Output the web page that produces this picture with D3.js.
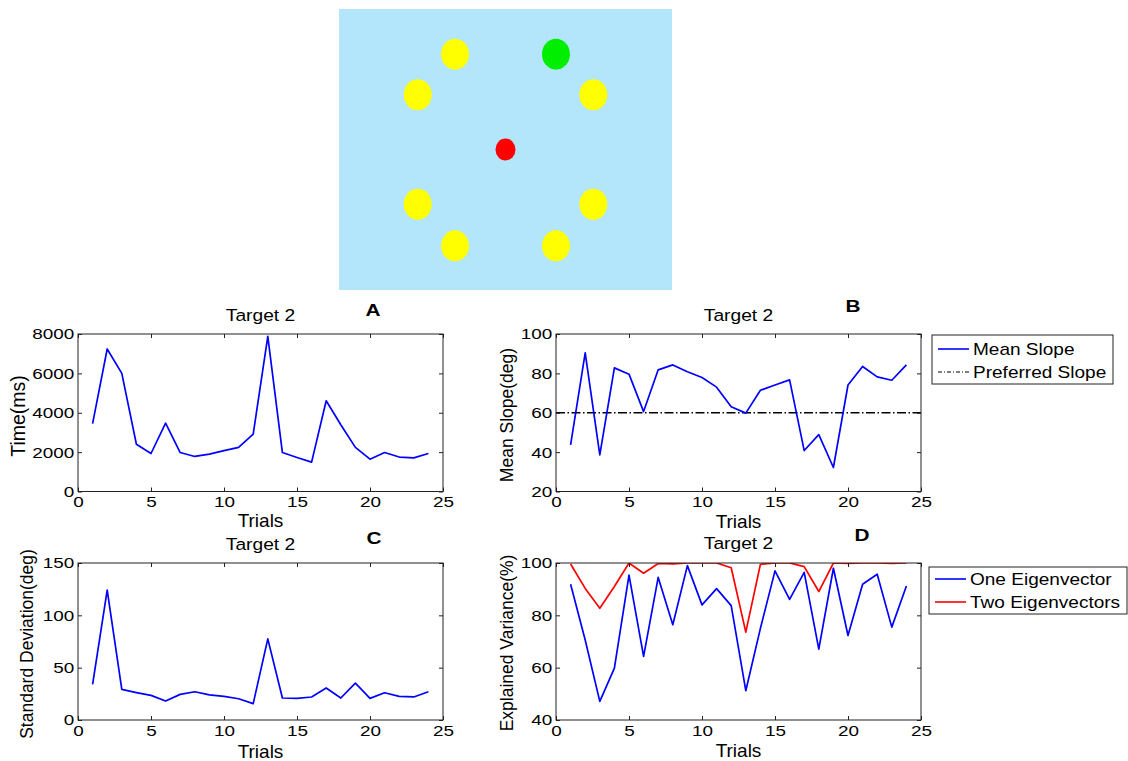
<!DOCTYPE html>
<html><head><meta charset="utf-8">
<script src="https://cdn.jsdelivr.net/npm/d3@7"></script>
<style>
body{margin:0;background:#fff;}
svg{display:block;font-family:"Liberation Sans",Arial,Helvetica,sans-serif;}
</style></head><body>
<svg id="c" width="1128" height="761"></svg>
<script>
// ---------- data ----------
const trials = d3.range(1, 25);
const timeMs = [3450,7240,6000,2400,1930,3470,1980,1780,1900,2080,2240,2910,7880,1980,1730,1490,4610,3390,2240,1640,1980,1750,1710,1930];
const meanSlope = [43.7,90.4,38.6,82.8,79.6,60.6,81.8,84.3,80.8,77.9,73.0,63.0,59.8,71.4,74.1,76.7,40.8,48.9,32.2,74.1,83.5,78.2,76.5,84.3];
const preferredSlope = 60;
const stdDev = [34,124,29.2,26.2,23.5,18.1,24.5,27,24,22.6,20.3,15.6,77.5,21,20.6,22,30.5,21,35.3,20.7,26,22.6,22,27];
const oneEig = [91.9,70.6,47.1,59.8,95.4,64.3,94.5,76.4,99.0,84.0,90.2,83.7,51.2,75.0,97.0,86.1,96.4,67.1,98.0,72.3,91.9,95.7,75.5,91.2];
const twoEig = [99.6,90.3,82.7,91.0,100,96.1,99.8,99.7,100,100,100,98.2,73.6,99.5,100,100,98.6,89.1,100,99.8,100,100,99.8,100];
const xTicks = [0,5,10,15,20,25];
const timeTicks = [0,2000,4000,6000,8000];
const slopeTicks = [20,40,60,80,100];
const sdTicks = [0,50,100,150];
const varTicks = [40,60,80,100];
// workspace targets (workspace units), colour per target
const targetX = [-5.0, 5.0, -8.7, 8.7, -8.7, 8.7, -5.0, 5.0, 0];
const targetY = [9.5, 9.5, 5.45, 5.45, -5.45, -5.45, -9.6, -9.6, 0];
const targetKind = ["other","goal","other","other","other","other","other","other","start"];

// ---------- helpers ----------
const svg = d3.select("#c");
function txt(parent, x, y, s, o) {
  o = o || {};
  const g = parent.append("g").attr("transform", `translate(${x},${y})` + (o.rot ? ` rotate(${o.rot})` : ""));
  const t = g.append("text").text(s)
    .attr("font-size", o.size || 17)
    .attr("text-anchor", o.anchor || "middle")
    .attr("fill", o.fill || "#000");
  if (o.weight) t.attr("font-weight", o.weight);
  if (o.sx) t.attr("transform", `scale(${o.sx},1)`);
  return t;
}

// ---------- top workspace picture ----------
const wx = d3.scaleLinear().domain([-16.5, 16.5]).range([339, 672]);
const wy = d3.scaleLinear().domain([14, -14]).range([9, 290]);
svg.append("rect").attr("x", wx(-16.5)).attr("y", wy(14))
  .attr("width", wx(16.5) - wx(-16.5)).attr("height", wy(-14) - wy(14))
  .attr("fill", "#b3e5fb");
const tcol = {other: "#ffff00", goal: "#00ee00", start: "#ff0000"};
svg.append("g").selectAll("ellipse").data(targetX.map((d, i) => i)).join("ellipse")
  .attr("cx", i => wx(targetX[i])).attr("cy", i => wy(targetY[i]))
  .attr("rx", i => targetKind[i] === "start" ? 10 : 14)
  .attr("ry", i => targetKind[i] === "start" ? 11 : 15.5)
  .attr("fill", i => tcol[targetKind[i]]);

// ---------- panels ----------
const fmt = d3.format("d");
function panel(p) {
  const g = svg.append("g");
  const x = d3.scaleLinear().domain([0, 25]).range([p.x0, p.x1]);
  const y = d3.scaleLinear().domain(p.yDomain).range([p.y1, p.y0]);
  const clipId = "clip" + p.letter;
  svg.append("clipPath").attr("id", clipId).append("rect")
    .attr("x", p.x0).attr("y", p.y0).attr("width", p.x1 - p.x0).attr("height", p.y1 - p.y0);
  g.append("rect").attr("x", p.x0).attr("y", p.y0).attr("width", p.x1 - p.x0).attr("height", p.y1 - p.y0).attr("fill", "#fff");
  const lg = g.append("g").attr("clip-path", `url(#${clipId})`);
  if (p.hline !== undefined) {
    lg.append("line").attr("x1", p.x0).attr("x2", p.x1).attr("y1", y(p.hline)).attr("y2", y(p.hline))
      .attr("stroke", "#000").attr("stroke-width", 1.3).attr("stroke-dasharray", "9,2.5,1.5,2.5");
  }
  p.series.forEach(s => {
    lg.append("path").datum(s.values)
      .attr("d", d3.line().x((d, i) => x(trials[i])).y(d => y(d)))
      .attr("fill", "none").attr("stroke", s.color).attr("stroke-width", 1.7).attr("stroke-linejoin", "round");
  });
  // axes (ticks inward, mirrored)
  const bx = g.append("g").attr("transform", `translate(0,${p.y1})`)
    .call(d3.axisBottom(x).tickValues(xTicks).tickSize(-4).tickSizeOuter(0).tickPadding(5).tickFormat(fmt));
  const tx = g.append("g").attr("transform", `translate(0,${p.y0})`)
    .call(d3.axisTop(x).tickValues(xTicks).tickSize(-4).tickSizeOuter(0).tickFormat(""));
  const ly = g.append("g").attr("transform", `translate(${p.x0},0)`)
    .call(d3.axisLeft(y).tickValues(p.yTicks).tickSize(-4).tickSizeOuter(0).tickPadding(3).tickFormat(fmt));
  const ry = g.append("g").attr("transform", `translate(${p.x1},0)`)
    .call(d3.axisRight(y).tickValues(p.yTicks).tickSize(-4).tickSizeOuter(0).tickFormat(""));
  [bx, tx, ly, ry].forEach(a => {
    a.attr("font-family", null).attr("font-size", null);
    a.select(".domain").remove();
    a.selectAll("line").attr("stroke", "#222");
    a.selectAll("text").attr("font-size", 15.5).attr("fill", "#000")
      .attr("transform", "scale(1.22,1)");
  });
  g.append("rect").attr("x", p.x0).attr("y", p.y0).attr("width", p.x1 - p.x0).attr("height", p.y1 - p.y0)
    .attr("fill", "none").attr("stroke", "#222").attr("stroke-width", 1);
  const cx = (p.x0 + p.x1) / 2;
  txt(g, cx, p.titleY, "Target 2", {size: 17, sx: 1.13});
  txt(g, cx, p.trialsY, "Trials", {size: 19});
  txt(g, p.yLabX, p.yLabY, p.ylabel, {size: p.yLabSize || 17.5, rot: -90});
  txt(g, p.letX, p.letY, p.letter, {size: 16, weight: "bold", sx: 1.3});
  if (p.legend) {
    const L = p.legend;
    const lgd = svg.append("g");
    lgd.append("rect").attr("x", L.x).attr("y", L.y).attr("width", L.w).attr("height", L.h)
      .attr("fill", "#fff").attr("stroke", "#222").attr("stroke-width", 1);
    L.items.forEach((it, i) => {
      const yy = L.y + L.first + i * L.step;
      lgd.append("line").attr("x1", L.x + 6).attr("x2", L.x + 37).attr("y1", yy).attr("y2", yy)
        .attr("stroke", it.color).attr("stroke-width", it.dash ? 1.2 : 1.6)
        .attr("stroke-dasharray", it.dash || null);
      txt(lgd, L.x + 41, yy + 6, it.label, {size: 17, sx: 1.12, anchor: "start"});
    });
  }
}

panel({letter: "A", x0: 78, x1: 443, y0: 334, y1: 491.5, yDomain: [0, 8000], yTicks: timeTicks,
  series: [{values: timeMs, color: "#0000ff"}],
  titleY: 321, trialsY: 527, yLabX: 25, yLabY: 416, ylabel: "Time(ms)", yLabSize: 19.5, letX: 373, letY: 315.5});
panel({letter: "B", x0: 556, x1: 921, y0: 334, y1: 491.5, yDomain: [20, 100], yTicks: slopeTicks,
  series: [{values: meanSlope, color: "#0000ff"}], hline: preferredSlope,
  titleY: 321, trialsY: 527.5, yLabX: 513, yLabY: 415, ylabel: "Mean Slope(deg)", letX: 853, letY: 311.5,
  legend: {x: 932, y: 335, w: 181, h: 49, first: 14, step: 23,
    items: [{label: "Mean Slope", color: "#0000ff"}, {label: "Preferred Slope", color: "#000", dash: "4,2,1,2"}]}});
panel({letter: "C", x0: 78, x1: 443, y0: 563, y1: 720, yDomain: [0, 150], yTicks: sdTicks,
  series: [{values: stdDev, color: "#0000ff"}],
  titleY: 550, trialsY: 757.5, yLabX: 33, yLabY: 644, ylabel: "Standard Deviation(deg)", letX: 374, letY: 544});
panel({letter: "D", x0: 556, x1: 921, y0: 563, y1: 720, yDomain: [40, 100], yTicks: varTicks,
  series: [{values: twoEig, color: "#ff0000"}, {values: oneEig, color: "#0000ff"}],
  titleY: 549, trialsY: 757, yLabX: 513, yLabY: 643, ylabel: "Explained Variance(%)", letX: 862, letY: 541,
  legend: {x: 929, y: 567, w: 198, h: 47, first: 12, step: 23,
    items: [{label: "One Eigenvector", color: "#0000ff"}, {label: "Two Eigenvectors", color: "#ff0000"}]}});
</script>
</body></html>
